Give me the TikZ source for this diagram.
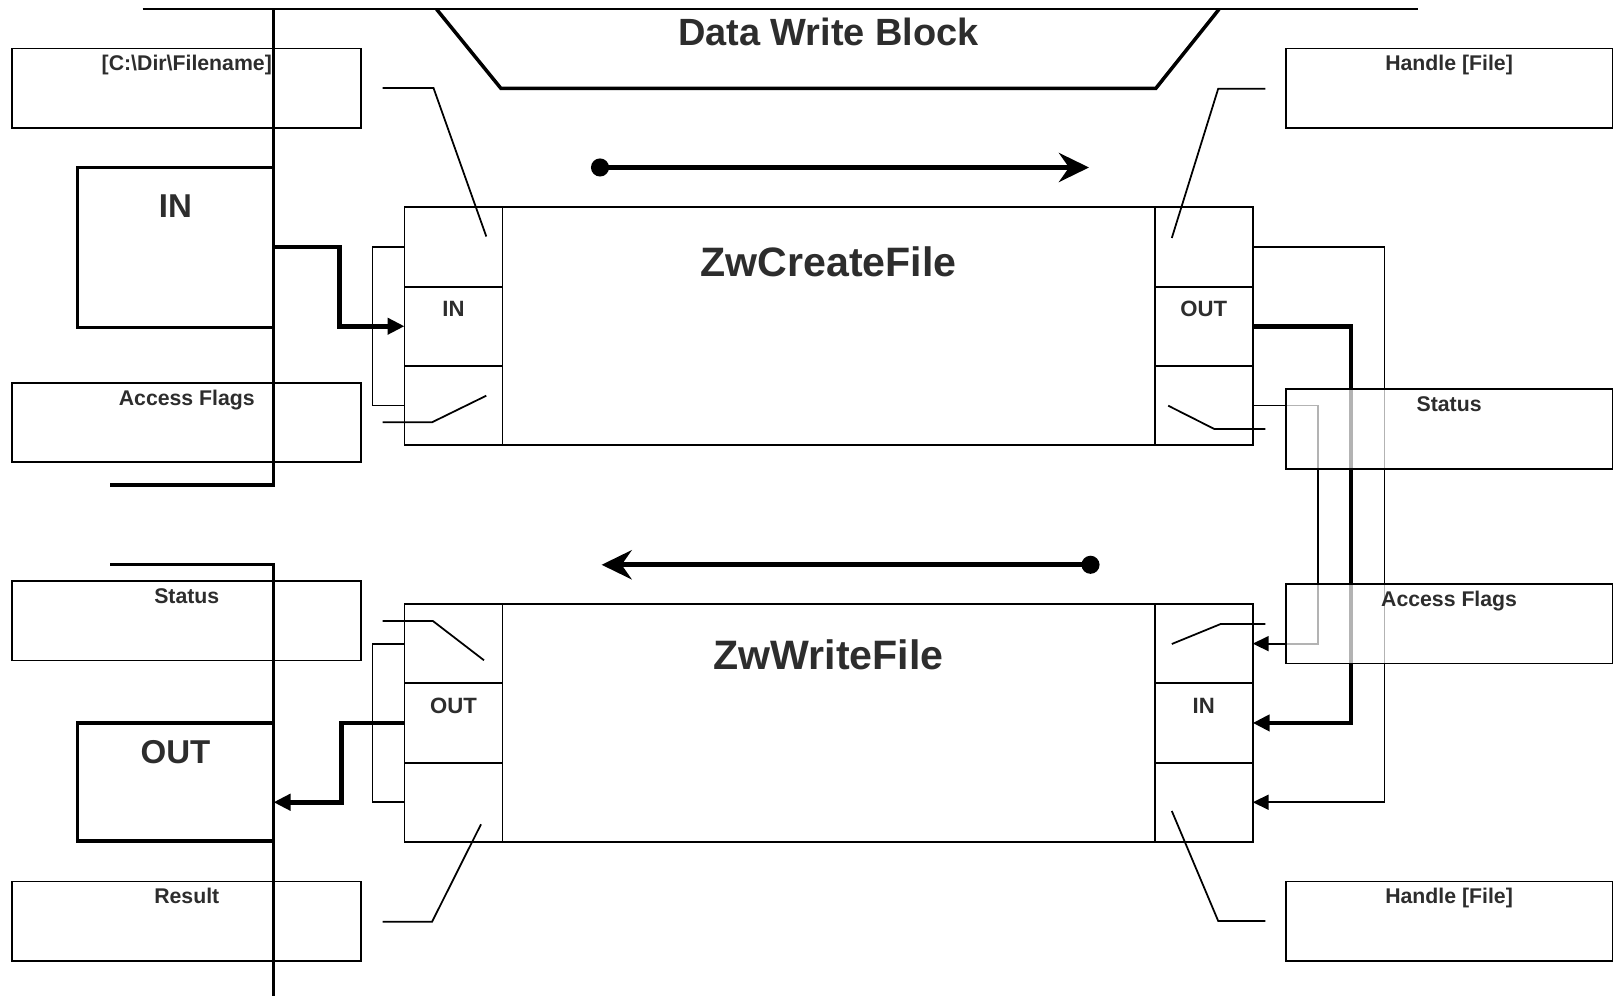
\documentclass[tikz,border=0pt]{standalone}
\usepackage{fontspec}
\setmainfont{Liberation Sans}
\usepackage{tikz}
\usetikzlibrary{arrows.meta, positioning}
\definecolor{labelgray}{RGB}{45, 45, 45}

\begin{document}
\begin{tikzpicture}[x=0.1mm, y=-0.1mm,
  thinline/.style={line width=0.5pt},
  wire/.style={line width=0.5pt, -{Triangle[length=1.6mm, width=1.5mm]}},
  buswire/.style={line width=1.3pt, -{Triangle[length=1.7mm, width=1.6mm]}},
  flow/.style={line width=1.4pt, {Circle[length=1.8mm]}-{Stealth[length=3mm, width=2.9mm, inset=1mm]}},
  parbox/.style={draw, line width=0.55pt, inner sep=0pt, outer sep=0pt, minimum width=34.88mm,
    text height=2.25mm, text depth=5.7mm, text=labelgray, font=\bfseries\fontsize{6.05}{7}\selectfont},
  iobox/.style={draw, line width=0.9pt, inner sep=0pt, outer sep=0pt, minimum width=19.61mm,
    text=labelgray, font=\bfseries\fontsize{9.4}{11}\selectfont},
  portcell/.style={draw, line width=0.55pt, inner sep=0pt, outer sep=0pt, minimum width=9.8mm,
    text height=2.98mm, text depth=4.95mm, text=labelgray, font=\bfseries\fontsize{6.3}{7}\selectfont},
  fnblock/.style={draw, line width=0.55pt, inner sep=0pt, outer sep=0pt, minimum width=65.22mm,
    text height=6.94mm, text depth=16.85mm, text=labelgray, font=\bfseries\fontsize{11.7}{13}\selectfont},
  seethrough/.style={fill=white, fill opacity=0.7, text opacity=1}]
\useasboundingbox (0,0) rectangle (1618,996);

% title
\draw[thinline] (142.5,9.3) -- (1418,9.3);
\draw[line width=1pt] (436.6,9.3) -- (501,88.5) -- (1155.7,88.5) -- (1219,9.3);
\node[anchor=base, text=labelgray, font=\bfseries\fontsize{10.8}{12}\selectfont] (title) at (828.5,45.7) {Data Write Block};

% left side
\node[parbox, anchor=north west] (fname) at (12.4,48.5) {[C:\textbackslash Dir\textbackslash Filename]};
\node[parbox, anchor=north west] (lflags) at (12.4,382.8) {Access Flags};
\node[parbox, anchor=north west] (lstatus) at (12.4,581) {Status};
\node[parbox, anchor=north west] (lresult) at (12.4,881.5) {Result};
\node[iobox, anchor=north west, text height=5mm, text depth=10.99mm] (inbox) at (77.4,167.2) {IN};
\node[iobox, anchor=north west, text height=4.07mm, text depth=7.73mm] (outbox) at (77.4,723) {OUT};
\draw[line width=1.1pt] (110.4,485) -- (273.5,485) -- (273.5,9.3);
\draw[line width=1.1pt] (110.4,564.5) -- (273.5,564.5) -- (273.5,996);

% ZwCreateFile
\node[portcell, anchor=north west] (cltop) at (404.5,207.3) {};
\node[portcell, below=0pt of cltop] (clmid) {IN};
\node[portcell, below=0pt of clmid] (clbot) {};
\node[fnblock, anchor=north west] (create) at (cltop.north east) {ZwCreateFile};
\node[portcell, anchor=north west] (crtop) at (create.north east) {};
\node[portcell, below=0pt of crtop] (crmid) {OUT};
\node[portcell, below=0pt of crmid] (crbot) {};

% ZwWriteFile
\node[portcell, anchor=north west] (wltop) at (404.5,604) {};
\node[portcell, below=0pt of wltop] (wlmid) {OUT};
\node[portcell, below=0pt of wlmid] (wlbot) {};
\node[fnblock, anchor=north west, text height=6.53mm, text depth=17.26mm] (write) at (wltop.north east) {ZwWriteFile};
\node[portcell, anchor=north west] (wrtop) at (write.north east) {};
\node[portcell, below=0pt of wrtop] (wrmid) {IN};
\node[portcell, below=0pt of wrmid] (wrbot) {};

% switch marks
\draw[thinline] (382.5,88) -- (433.5,88) -- (486.3,236.5);
\draw[thinline] (382.5,422.3) -- (432,422.3) -- (486.3,395.7);
\draw[thinline] (1265.4,88.7) -- (1218.2,88.7) -- (1171.8,238);
\draw[thinline] (1265.4,429) -- (1214.3,429) -- (1168.2,405.7);
\draw[thinline] (382.5,621) -- (432.9,621) -- (484,660.3);
\draw[thinline] (382.5,921.7) -- (432.1,921.7) -- (481,824.3);
\draw[thinline] (1265.4,624) -- (1220.7,624) -- (1171.8,644);
\draw[thinline] (1265.4,921) -- (1218.2,921) -- (1171.8,811);

% brackets
\draw[thinline] (cltop.west) -- ++(-32,0) |- (clbot.west);
\draw[thinline] (wltop.west) -- ++(-32,0) |- (wlbot.west);

% connections
\draw[buswire] (inbox.east) -- ++(66,0) |- (clmid.west);
\draw[buswire] (wlmid.west) -- ++(-63,0) |- (outbox.east |- wlbot.west);
\draw[buswire] (crmid.east) -- ++(98.3,0) |- (wrmid.east);
\draw[wire] (crtop.east) -- ++(131.8,0) |- (wrbot.east);
\draw[wire] (crbot.east) -- ++(65.3,0) |- (wrtop.east);

% direction of flow
\coordinate (flowa) at (591,167.5);
\coordinate (flowb) at (1089,167.5);
\coordinate (flowc) at (1099.5,564.8);
\coordinate (flowd) at (601.6,564.8);
\draw[flow] (flowa) -- (flowb);
\draw[flow] (flowc) -- (flowd);

% right side
\node[parbox, anchor=north west, minimum width=32.68mm] (rhandle) at (1285.7,48.5) {Handle [File]};
\node[parbox, seethrough, anchor=north west, minimum width=32.68mm] (rstatus) at (1285.7,389.3) {Status};
\node[parbox, seethrough, anchor=north west, minimum width=32.68mm] (rflags) at (1285.7,584) {Access Flags};
\node[parbox, anchor=north west, minimum width=32.68mm] (rhandleb) at (1285.7,881.5) {Handle [File]};
\end{tikzpicture}
\end{document}
